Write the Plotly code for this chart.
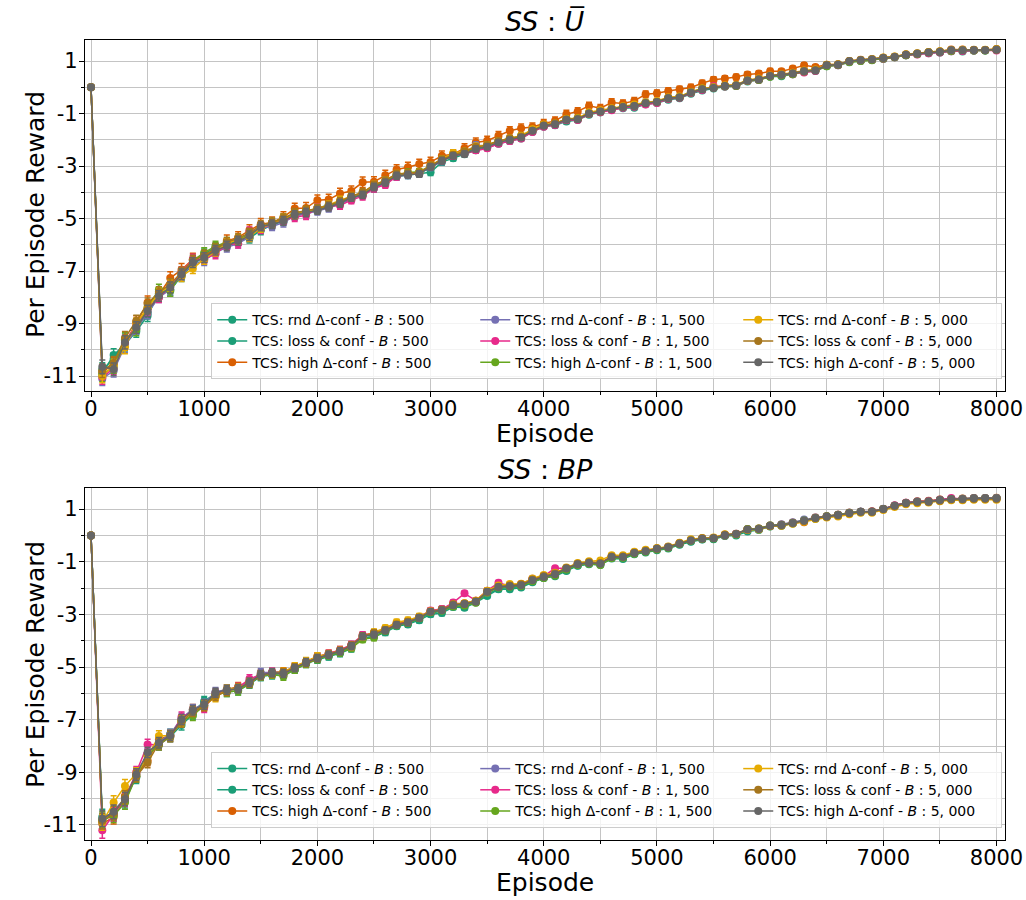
import plotly.graph_objects as go

EPISODES = list(range(0, 8001, 100))

# ---------------- top panel (SS : U-bar) ----------------
TOP_RND500 = [0.00, -10.90, -10.20, -9.80, -9.30, -8.70, -7.85, -7.70, -7.20, -6.75,
              -6.45, -6.15, -6.00, -5.85, -5.75, -5.45, -5.25, -5.10, -4.90, -4.80,
              -4.65, -4.55, -4.45, -4.25, -4.10, -3.85, -3.65, -3.40, -3.35, -3.30,
              -3.24, -2.85, -2.70, -2.55, -2.40, -2.30, -2.15, -2.05, -1.95, -1.70,
              -1.50, -1.45, -1.30, -1.25, -1.05, -0.95, -0.85, -0.80, -0.78, -0.65,
              -0.60, -0.48, -0.42, -0.25, -0.12, -0.05, 0.02, 0.05, 0.22, 0.28,
              0.40, 0.42, 0.50, 0.58, 0.62, 0.80, 0.84, 0.95, 1.00, 1.04,
              1.08, 1.14, 1.22, 1.26, 1.30, 1.32, 1.38, 1.36, 1.40, 1.40,
              1.42]
TOP_LOSS500 = [0.00, -10.75, -10.35, -9.65, -9.20, -8.60, -7.80, -7.75, -7.15, -6.62,
               -6.35, -6.10, -5.95, -5.80, -5.70, -5.40, -5.20, -5.05, -4.80, -4.75,
               -4.60, -4.50, -4.38, -4.22, -4.05, -3.78, -3.60, -3.35, -3.28, -3.25,
               -3.10, -2.78, -2.62, -2.50, -2.32, -2.25, -2.08, -1.98, -1.88, -1.68,
               -1.48, -1.40, -1.26, -1.20, -0.98, -0.95, -0.82, -0.74, -0.72, -0.60,
               -0.55, -0.44, -0.38, -0.22, -0.08, -0.02, 0.04, 0.08, 0.25, 0.30,
               0.42, 0.46, 0.52, 0.60, 0.64, 0.82, 0.86, 0.98, 1.02, 1.05,
               1.10, 1.15, 1.22, 1.27, 1.31, 1.33, 1.37, 1.39, 1.40, 1.41,
               1.42]
TOP_HIGH500 = [0.00, -10.85, -10.55, -9.75, -8.95, -8.20, -7.90, -7.27, -6.95, -6.55,
               -6.45, -6.15, -5.85, -5.72, -5.45, -5.22, -5.15, -4.95, -4.62, -4.60,
               -4.30, -4.28, -4.05, -3.95, -3.62, -3.60, -3.35, -3.13, -3.05, -2.92,
               -2.85, -2.61, -2.55, -2.32, -2.10, -2.04, -1.85, -1.66, -1.56, -1.51,
               -1.38, -1.28, -1.03, -0.92, -0.71, -0.80, -0.58, -0.62, -0.52, -0.27,
               -0.23, -0.14, -0.08, -0.01, 0.15, 0.29, 0.33, 0.39, 0.49, 0.52,
               0.61, 0.61, 0.71, 0.84, 0.77, 0.86, 0.88, 1.00, 1.05, 1.07,
               1.12, 1.16, 1.25, 1.28, 1.33, 1.36, 1.44, 1.44, 1.42, 1.42,
               1.46]
TOP_RND1500 = [0.00, -11.10, -10.80, -9.85, -9.20, -8.60, -8.00, -7.70, -7.15, -6.75,
               -6.60, -6.30, -6.10, -5.95, -5.70, -5.35, -5.30, -5.15, -4.90, -4.82,
               -4.72, -4.60, -4.45, -4.25, -4.05, -3.82, -3.65, -3.40, -3.35, -3.28,
               -3.05, -2.82, -2.55, -2.50, -2.20, -2.25, -2.08, -1.98, -1.88, -1.65,
               -1.45, -1.40, -1.22, -1.20, -1.00, -0.90, -0.84, -0.74, -0.70, -0.60,
               -0.55, -0.40, -0.38, -0.18, -0.07, -0.02, 0.06, 0.08, 0.26, 0.31,
               0.44, 0.48, 0.53, 0.62, 0.66, 0.84, 0.87, 0.99, 1.03, 1.06,
               1.11, 1.15, 1.24, 1.29, 1.32, 1.35, 1.40, 1.41, 1.41, 1.42,
               1.43]
TOP_LOSS1500 = [0.00, -11.05, -10.70, -9.70, -9.05, -8.45, -8.00, -7.60, -7.05, -6.55,
                -6.55, -6.35, -6.00, -5.95, -5.50, -5.40, -5.18, -5.05, -4.95, -4.88,
                -4.60, -4.52, -4.50, -4.30, -4.15, -3.85, -3.72, -3.40, -3.30, -3.28,
                -3.00, -2.78, -2.62, -2.52, -2.40, -2.32, -2.15, -2.05, -1.95, -1.70,
                -1.50, -1.44, -1.26, -1.25, -1.02, -0.95, -0.88, -0.78, -0.74, -0.66,
                -0.60, -0.45, -0.40, -0.22, -0.10, 0.05, 0.03, 0.05, 0.24, 0.28,
                0.42, 0.46, 0.50, 0.56, 0.62, 0.82, 0.84, 0.97, 1.01, 1.04,
                1.09, 1.14, 1.22, 1.25, 1.30, 1.32, 1.37, 1.38, 1.40, 1.41,
                1.40]
TOP_HIGH1500 = [0.00, -10.95, -10.65, -9.60, -9.25, -8.40, -7.70, -7.75, -7.10, -6.60,
                -6.30, -6.05, -5.90, -5.80, -5.60, -5.35, -5.15, -5.00, -4.80, -4.70,
                -4.65, -4.50, -4.40, -4.18, -4.05, -3.75, -3.60, -3.35, -3.25, -3.22,
                -3.00, -2.75, -2.58, -2.45, -2.30, -2.20, -2.05, -1.95, -1.85, -1.62,
                -1.45, -1.38, -1.22, -1.18, -1.00, -0.90, -0.82, -0.74, -0.70, -0.58,
                -0.55, -0.42, -0.36, -0.18, -0.05, 0.00, 0.04, 0.05, 0.25, 0.28,
                0.40, 0.45, 0.50, 0.60, 0.65, 0.80, 0.85, 0.96, 1.00, 1.03,
                1.10, 1.14, 1.22, 1.27, 1.33, 1.35, 1.38, 1.42, 1.40, 1.40,
                1.44]
TOP_RND5000 = [0.00, -11.00, -10.60, -9.90, -9.00, -8.40, -7.85, -7.55, -7.20, -6.90,
               -6.55, -6.25, -5.95, -5.80, -5.70, -5.35, -5.20, -5.00, -4.85, -4.72,
               -4.62, -4.48, -4.30, -4.15, -4.02, -3.72, -3.55, -3.30, -3.28, -3.25,
               -2.98, -2.75, -2.50, -2.45, -2.25, -2.20, -2.05, -1.95, -1.85, -1.60,
               -1.42, -1.38, -1.20, -1.18, -0.95, -0.88, -0.80, -0.72, -0.66, -0.58,
               -0.52, -0.38, -0.35, -0.18, -0.05, 0.00, 0.08, 0.10, 0.28, 0.33,
               0.45, 0.50, 0.55, 0.64, 0.68, 0.86, 0.88, 1.00, 1.04, 1.08,
               1.13, 1.17, 1.26, 1.30, 1.34, 1.37, 1.42, 1.43, 1.42, 1.43,
               1.45]
TOP_LOSS5000 = [0.00, -10.80, -10.50, -9.55, -8.90, -8.25, -7.80, -7.50, -7.05, -6.60,
                -6.40, -6.15, -5.90, -5.75, -5.55, -5.25, -5.15, -5.00, -4.78, -4.70,
                -4.62, -4.50, -4.35, -4.15, -4.00, -3.72, -3.55, -3.30, -3.28, -3.25,
                -2.98, -2.75, -2.58, -2.45, -2.28, -2.20, -2.05, -1.95, -1.88, -1.65,
                -1.45, -1.38, -1.22, -1.20, -1.00, -0.92, -0.82, -0.74, -0.70, -0.60,
                -0.55, -0.40, -0.38, -0.20, -0.07, -0.02, 0.06, 0.08, 0.27, 0.31,
                0.44, 0.49, 0.53, 0.62, 0.66, 0.85, 0.87, 1.00, 1.04, 1.07,
                1.12, 1.16, 1.25, 1.29, 1.33, 1.36, 1.42, 1.42, 1.43, 1.42,
                1.44]
TOP_HIGH5000 = [0.00, -10.65, -10.74, -9.72, -9.15, -8.52, -7.95, -7.63, -7.12, -6.68,
                -6.49, -6.21, -6.05, -5.85, -5.66, -5.30, -5.22, -5.09, -4.86, -4.77,
                -4.69, -4.56, -4.42, -4.20, -4.10, -3.80, -3.63, -3.37, -3.33, -3.30,
                -3.03, -2.80, -2.61, -2.54, -2.35, -2.27, -2.10, -2.01, -1.91, -1.66,
                -1.47, -1.41, -1.24, -1.22, -1.00, -0.92, -0.84, -0.75, -0.71, -0.61,
                -0.56, -0.42, -0.39, -0.20, -0.08, -0.03, 0.05, 0.07, 0.26, 0.30,
                0.43, 0.48, 0.52, 0.61, 0.64, 0.84, 0.86, 0.99, 1.03, 1.06,
                1.11, 1.15, 1.24, 1.28, 1.32, 1.34, 1.41, 1.41, 1.41, 1.41,
                1.43]

TOP_ERR = [0.02, 0.26, 0.24, 0.25, 0.22, 0.22, 0.20, 0.21, 0.20, 0.19,
           0.19, 0.18, 0.18, 0.17, 0.18, 0.17, 0.16, 0.17, 0.16, 0.16,
           0.15, 0.15, 0.15, 0.14, 0.14, 0.14, 0.13, 0.13, 0.13, 0.12,
           0.12, 0.12, 0.11, 0.11, 0.11, 0.10, 0.10, 0.10, 0.10, 0.09,
           0.09, 0.09, 0.09, 0.08, 0.08, 0.08, 0.08, 0.07, 0.07, 0.07,
           0.07, 0.07, 0.06, 0.06, 0.06, 0.06, 0.06, 0.05, 0.05, 0.05,
           0.05, 0.05, 0.05, 0.05, 0.04, 0.04, 0.04, 0.04, 0.04, 0.04,
           0.04, 0.04, 0.04, 0.04, 0.03, 0.03, 0.03, 0.03, 0.03, 0.03,
           0.03]
TOP_ERR_HIGH500 = [0.02, 0.28, 0.26, 0.27, 0.25, 0.25, 0.24, 0.24, 0.24, 0.23,
                   0.23, 0.22, 0.22, 0.22, 0.21, 0.22, 0.21, 0.21, 0.20, 0.21,
                   0.20, 0.20, 0.20, 0.19, 0.20, 0.19, 0.19, 0.18, 0.19, 0.18,
                   0.18, 0.18, 0.17, 0.17, 0.17, 0.17, 0.16, 0.16, 0.16, 0.15,
                   0.15, 0.15, 0.15, 0.14, 0.14, 0.14, 0.14, 0.13, 0.13, 0.13,
                   0.13, 0.12, 0.12, 0.12, 0.12, 0.11, 0.11, 0.11, 0.10, 0.10,
                   0.10, 0.09, 0.09, 0.09, 0.08, 0.08, 0.07, 0.07, 0.06, 0.06,
                   0.06, 0.05, 0.05, 0.05, 0.05, 0.04, 0.04, 0.04, 0.04, 0.04,
                   0.04]

# ---------------- bottom panel (SS : BP) ----------------
BOT_RND500 = [0.00, -10.70, -10.55, -10.10, -9.15, -8.35, -7.95, -7.65, -7.20, -6.80,
              -6.35, -6.05, -5.95, -5.90, -5.65, -5.35, -5.30, -5.30, -5.10, -4.88,
              -4.72, -4.60, -4.48, -4.30, -3.90, -3.85, -3.68, -3.45, -3.38, -3.22,
              -3.00, -2.95, -2.72, -2.75, -2.55, -2.30, -2.05, -2.05, -1.98, -1.78,
              -1.62, -1.55, -1.35, -1.15, -1.10, -1.12, -0.88, -0.90, -0.72, -0.65,
              -0.56, -0.50, -0.36, -0.24, -0.16, -0.15, -0.02, 0.00, 0.15, 0.20,
              0.35, 0.37, 0.45, 0.55, 0.63, 0.70, 0.75, 0.84, 0.88, 0.90,
              1.00, 1.12, 1.22, 1.27, 1.30, 1.33, 1.36, 1.38, 1.40, 1.40,
              1.42]
BOT_LOSS500 = [0.00, -10.85, -10.60, -9.95, -9.20, -8.30, -7.90, -7.55, -7.05, -6.70,
               -6.30, -6.00, -5.90, -5.80, -5.62, -5.35, -5.28, -5.22, -5.08, -4.86,
               -4.70, -4.58, -4.45, -4.25, -3.92, -3.82, -3.65, -3.42, -3.35, -3.18,
               -2.95, -2.88, -2.68, -2.70, -2.50, -2.25, -2.02, -1.98, -1.95, -1.75,
               -1.62, -1.52, -1.32, -1.14, -1.08, -1.10, -0.86, -0.86, -0.70, -0.62,
               -0.54, -0.48, -0.34, -0.22, -0.15, -0.13, -0.01, 0.02, 0.20, 0.22,
               0.34, 0.38, 0.46, 0.55, 0.64, 0.72, 0.76, 0.85, 0.90, 0.91,
               1.00, 1.13, 1.22, 1.28, 1.30, 1.35, 1.38, 1.39, 1.41, 1.42,
               1.42]
BOT_HIGH500 = [0.00, -10.95, -10.70, -9.90, -9.10, -8.55, -7.75, -7.60, -7.00, -6.60,
               -6.50, -6.10, -5.85, -5.75, -5.55, -5.25, -5.20, -5.18, -5.00, -4.80,
               -4.60, -4.50, -4.35, -4.18, -3.80, -3.72, -3.58, -3.38, -3.30, -3.10,
               -2.88, -2.80, -2.60, -2.58, -2.48, -2.12, -1.95, -1.90, -1.86, -1.68,
               -1.55, -1.45, -1.24, -1.08, -1.02, -1.05, -0.80, -0.80, -0.65, -0.58,
               -0.50, -0.44, -0.30, -0.18, -0.12, -0.10, 0.02, 0.06, 0.23, 0.26,
               0.38, 0.40, 0.48, 0.50, 0.68, 0.73, 0.78, 0.86, 0.90, 0.92,
               1.00, 1.14, 1.24, 1.30, 1.32, 1.36, 1.37, 1.40, 1.42, 1.42,
               1.43]
BOT_RND1500 = [0.00, -10.90, -10.45, -10.00, -9.05, -8.30, -7.85, -7.55, -6.95, -6.60,
               -6.40, -5.95, -5.85, -5.80, -5.55, -5.22, -5.20, -5.22, -5.02, -4.80,
               -4.64, -4.50, -4.38, -4.18, -3.82, -3.75, -3.58, -3.38, -3.28, -3.10,
               -2.88, -2.80, -2.62, -2.60, -2.50, -2.18, -1.90, -1.92, -1.88, -1.68,
               -1.56, -1.45, -1.24, -1.08, -1.03, -1.06, -0.80, -0.80, -0.66, -0.58,
               -0.50, -0.43, -0.30, -0.18, -0.12, -0.10, 0.02, 0.06, 0.23, 0.25,
               0.38, 0.42, 0.50, 0.60, 0.68, 0.73, 0.78, 0.86, 0.91, 0.91,
               1.01, 1.14, 1.24, 1.29, 1.30, 1.35, 1.39, 1.39, 1.42, 1.42,
               1.42]
BOT_LOSS1500 = [0.00, -11.20, -10.60, -10.05, -9.00, -7.94, -7.95, -7.65, -6.90, -6.70,
                -6.55, -6.00, -5.90, -5.78, -5.45, -5.30, -5.20, -5.28, -5.00, -4.80,
                -4.62, -4.48, -4.35, -4.15, -3.78, -3.72, -3.55, -3.35, -3.25, -3.10,
                -2.85, -2.80, -2.55, -2.20, -2.48, -2.10, -1.80, -1.92, -1.85, -1.65,
                -1.55, -1.25, -1.25, -1.10, -1.05, -1.05, -0.82, -0.80, -0.65, -0.58,
                -0.52, -0.44, -0.30, -0.18, -0.12, -0.10, 0.00, 0.05, 0.22, 0.25,
                0.36, 0.40, 0.48, 0.55, 0.66, 0.72, 0.78, 0.86, 0.90, 0.91,
                1.00, 1.14, 1.24, 1.28, 1.30, 1.35, 1.42, 1.38, 1.40, 1.40,
                1.40]
BOT_HIGH1500 = [0.00, -10.80, -10.65, -10.15, -9.15, -8.35, -7.95, -7.65, -7.05, -6.85,
                -6.45, -6.05, -5.95, -5.90, -5.62, -5.32, -5.28, -5.35, -5.10, -4.88,
                -4.70, -4.56, -4.45, -4.28, -3.95, -3.88, -3.62, -3.42, -3.33, -3.15,
                -2.92, -2.86, -2.70, -2.66, -2.56, -2.18, -1.98, -1.95, -1.92, -1.74,
                -1.62, -1.52, -1.30, -1.12, -1.08, -1.12, -0.86, -0.85, -0.70, -0.62,
                -0.54, -0.47, -0.33, -0.20, -0.14, -0.12, 0.00, 0.04, 0.24, 0.26,
                0.38, 0.40, 0.48, 0.57, 0.66, 0.73, 0.78, 0.86, 0.90, 0.90,
                1.00, 1.12, 1.22, 1.27, 1.28, 1.33, 1.37, 1.37, 1.40, 1.40,
                1.40]
BOT_RND5000 = [0.00, -10.90, -10.15, -9.52, -9.05, -8.40, -7.62, -7.60, -7.05, -6.65,
               -6.45, -6.15, -5.85, -5.80, -5.60, -5.30, -5.25, -5.20, -4.98, -4.78,
               -4.60, -4.50, -4.38, -4.22, -3.85, -3.68, -3.52, -3.30, -3.22, -3.08,
               -2.88, -2.82, -2.62, -2.58, -2.48, -2.10, -1.90, -1.85, -1.84, -1.64,
               -1.50, -1.42, -1.22, -1.05, -0.98, -0.95, -0.75, -0.75, -0.62, -0.55,
               -0.48, -0.42, -0.28, -0.15, -0.10, -0.08, 0.04, 0.04, 0.20, 0.22,
               0.35, 0.37, 0.44, 0.52, 0.62, 0.68, 0.72, 0.80, 0.86, 0.86,
               0.96, 1.08, 1.18, 1.22, 1.25, 1.30, 1.33, 1.33, 1.35, 1.35,
               1.35]
BOT_LOSS5000 = [0.00, -10.85, -10.55, -9.95, -9.15, -8.63, -7.90, -7.62, -7.10, -6.70,
                -6.48, -6.10, -5.92, -5.80, -5.62, -5.32, -5.25, -5.22, -5.02, -4.85,
                -4.66, -4.52, -4.38, -4.18, -3.82, -3.70, -3.60, -3.38, -3.28, -3.12,
                -2.90, -2.82, -2.62, -2.60, -2.50, -2.15, -1.95, -1.90, -1.86, -1.68,
                -1.54, -1.45, -1.24, -1.08, -1.02, -1.05, -0.80, -0.80, -0.66, -0.58,
                -0.50, -0.44, -0.30, -0.18, -0.11, -0.10, 0.02, 0.05, 0.22, 0.24,
                0.36, 0.38, 0.46, 0.55, 0.65, 0.71, 0.76, 0.84, 0.89, 0.89,
                0.99, 1.11, 1.21, 1.26, 1.27, 1.32, 1.36, 1.36, 1.38, 1.38,
                1.38]
BOT_HIGH5000 = [0.00, -10.76, -10.50, -10.02, -9.08, -8.25, -7.88, -7.60, -6.99, -6.64,
                -6.42, -5.98, -5.86, -5.83, -5.58, -5.29, -5.22, -5.25, -5.04, -4.82,
                -4.66, -4.53, -4.40, -4.21, -3.84, -3.77, -3.61, -3.40, -3.31, -3.13,
                -2.90, -2.84, -2.65, -2.61, -2.52, -2.14, -1.96, -1.93, -1.89, -1.70,
                -1.58, -1.48, -1.26, -1.10, -1.05, -1.08, -0.82, -0.82, -0.67, -0.60,
                -0.51, -0.45, -0.32, -0.19, -0.13, -0.11, 0.01, 0.05, 0.22, 0.24,
                0.37, 0.39, 0.47, 0.56, 0.66, 0.72, 0.77, 0.85, 0.90, 0.90,
                1.00, 1.13, 1.23, 1.28, 1.29, 1.34, 1.38, 1.38, 1.41, 1.41,
                1.41]

BOT_ERR = [0.02, 0.30, 0.26, 0.25, 0.22, 0.20, 0.20, 0.19, 0.19, 0.18,
           0.18, 0.17, 0.17, 0.16, 0.16, 0.16, 0.15, 0.15, 0.14, 0.14,
           0.14, 0.13, 0.13, 0.13, 0.12, 0.12, 0.12, 0.11, 0.11, 0.11,
           0.10, 0.10, 0.10, 0.09, 0.09, 0.09, 0.09, 0.08, 0.08, 0.08,
           0.08, 0.07, 0.07, 0.07, 0.07, 0.06, 0.06, 0.06, 0.06, 0.05,
           0.05, 0.05, 0.05, 0.05, 0.04, 0.04, 0.04, 0.04, 0.04, 0.04,
           0.04, 0.03, 0.03, 0.03, 0.03, 0.03, 0.03, 0.03, 0.03, 0.03,
           0.03, 0.03, 0.03, 0.03, 0.02, 0.02, 0.02, 0.02, 0.02, 0.02,
           0.02]

SERIES_NAMES = [
    "TCS: rnd Δ-conf - <i>B</i> : 500",
    "TCS: loss &amp; conf - <i>B</i> : 500",
    "TCS: high Δ-conf - <i>B</i> : 500",
    "TCS: rnd Δ-conf - <i>B</i> : 1, 500",
    "TCS: loss &amp; conf - <i>B</i> : 1, 500",
    "TCS: high Δ-conf - <i>B</i> : 1, 500",
    "TCS: rnd Δ-conf - <i>B</i> : 5, 000",
    "TCS: loss &amp; conf - <i>B</i> : 5, 000",
    "TCS: high Δ-conf - <i>B</i> : 5, 000",
]
COLORS = ["#1b9e77", "#1b9e77", "#d95f02", "#7570b3", "#e7298a",
          "#66a61e", "#e6ab02", "#a6761d", "#666666"]
# legend ranks so the legend reads column-wise like the original (3 columns)
LEGEND_RANK = [1, 4, 7, 2, 5, 8, 3, 6, 9]

TOP_DATA = [TOP_RND500, TOP_LOSS500, TOP_HIGH500, TOP_RND1500, TOP_LOSS1500,
            TOP_HIGH1500, TOP_RND5000, TOP_LOSS5000, TOP_HIGH5000]
TOP_ERRS = [TOP_ERR, TOP_ERR, TOP_ERR_HIGH500, TOP_ERR, TOP_ERR,
            TOP_ERR, TOP_ERR, TOP_ERR, TOP_ERR]
BOT_DATA = [BOT_RND500, BOT_LOSS500, BOT_HIGH500, BOT_RND1500, BOT_LOSS1500,
            BOT_HIGH1500, BOT_RND5000, BOT_LOSS5000, BOT_HIGH5000]
BOT_ERRS = [BOT_ERR] * 9

Y_TICKS = [1, -1, -3, -5, -7, -9, -11]
Y_TICKTEXT = ["1", "-1", "-3", "-5", "-7", "-9", "-11"]
Y_MINOR = [0, -2, -4, -6, -8, -10]
X_TICKS = [0, 1000, 2000, 3000, 4000, 5000, 6000, 7000, 8000]

FONT = "DejaVu Sans"

fig = go.Figure()

for panel, (data, errs, xa, ya, leg) in enumerate([
        (TOP_DATA, TOP_ERRS, "x", "y", "legend"),
        (BOT_DATA, BOT_ERRS, "x2", "y2", "legend2")]):
    for i in range(9):
        fig.add_trace(go.Scatter(
            x=EPISODES, y=data[i], mode="lines+markers",
            name=SERIES_NAMES[i], legend=leg, legendrank=LEGEND_RANK[i],
            xaxis=xa, yaxis=ya,
            line=dict(color=COLORS[i], width=1.5),
            marker=dict(color=COLORS[i], size=8),
            error_y=dict(type="data", array=errs[i], visible=True,
                         color=COLORS[i], thickness=1.5, width=3),
        ))

grid = "#c4c4c4"
xcommon = dict(range=[-53, 8075], tickmode="array", tickvals=X_TICKS,
               ticks="outside", ticklen=5, tickwidth=1.2, tickcolor="black",
               showgrid=True, gridcolor=grid, gridwidth=1.2,
               showline=True, linecolor="black", linewidth=1.2, mirror=True,
               zeroline=False, automargin=False, ticklabelstandoff=-6,
               tickfont=dict(family=FONT, size=21, color="black"),
               minor=dict(dtick=500, tick0=0, ticks="outside", ticklen=3,
                          tickcolor="black", showgrid=True, gridcolor=grid,
                          gridwidth=1.2))
ycommon = dict(range=[-11.57, 1.8], tickmode="array", tickvals=Y_TICKS,
               ticktext=Y_TICKTEXT,
               ticks="outside", ticklen=5, tickwidth=1.2, tickcolor="black",
               showgrid=True, gridcolor=grid, gridwidth=1.2,
               showline=True, linecolor="black", linewidth=1.2, mirror=True,
               zeroline=False, automargin=False, ticklabelstandoff=-3,
               tickfont=dict(family=FONT, size=21, color="black"),
               minor=dict(tickmode="array", tickvals=Y_MINOR, ticks="outside",
                          ticklen=3, tickcolor="black", showgrid=True,
                          gridcolor=grid, gridwidth=1.2))

legcommon = dict(orientation="h", xanchor="right", yanchor="bottom",
                 x=0.997, entrywidth=218, entrywidthmode="pixels",
                 bgcolor="rgba(255,255,255,0.8)", bordercolor="#cccccc",
                 borderwidth=1, itemwidth=30, tracegroupgap=0,
                 font=dict(family=FONT, size=14, color="black"))

title_font = dict(family=FONT, size=25, color="black")
annots = [
    dict(text="<i>SS</i> : <i>U\u0305</i>", x=0.5, y=1.0, xref="paper", yref="paper",
         xanchor="center", yanchor="bottom", yshift=1, showarrow=False,
         font=dict(family=FONT, size=27, color="black")),
    dict(text="<i>SS</i> : <i>BP</i>", x=0.5, y=0.44, xref="paper", yref="paper",
         xanchor="center", yanchor="bottom", yshift=1, showarrow=False,
         font=dict(family=FONT, size=27, color="black")),
    # axis titles
    dict(text="Episode", x=0.5, y=(840 - 433) / 800, xref="paper", yref="paper",
         xanchor="center", yanchor="middle", showarrow=False, font=title_font),
    dict(text="Episode", x=0.5, y=(840 - 882) / 800, xref="paper", yref="paper",
         xanchor="center", yanchor="middle", showarrow=False, font=title_font),
    dict(text="Per Episode Reward", x=(35 - 85) / 920, y=(840 - 215) / 800, xref="paper",
         yref="paper", xanchor="center", yanchor="middle", textangle=-90,
         showarrow=False, font=title_font),
    dict(text="Per Episode Reward", x=(35 - 85) / 920, y=(840 - 665) / 800, xref="paper",
         yref="paper", xanchor="center", yanchor="middle", textangle=-90,
         showarrow=False, font=title_font),
]

fig.update_layout(
    width=1026, height=900,
    margin=dict(l=85, r=21, t=40, b=60, autoexpand=False),
    paper_bgcolor="white", plot_bgcolor="white",
    font=dict(family=FONT, color="black"),
    xaxis=dict(domain=[0, 1], anchor="y", **xcommon),
    yaxis=dict(domain=[0.56125, 1], anchor="x", **ycommon),
    xaxis2=dict(domain=[0, 1], anchor="y2", **xcommon),
    yaxis2=dict(domain=[0, 0.44], anchor="x2", **ycommon),
    legend=dict(y=0.576, **legcommon),
    legend2=dict(y=0.015, **legcommon),
    annotations=annots,
)

fig.write_html("out.html", config={"displayModeBar": False},
               post_script="document.body.style.margin='0';document.body.style.padding='0';")
